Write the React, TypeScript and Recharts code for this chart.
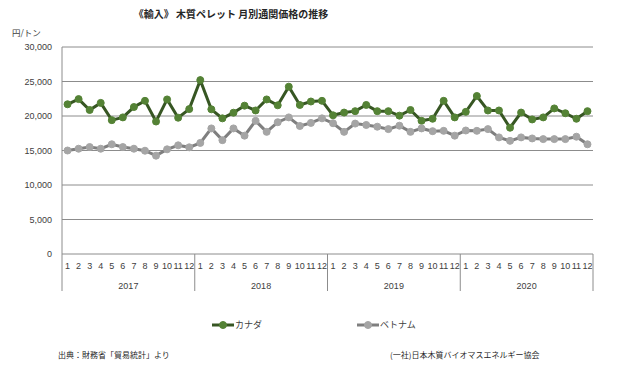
import { LineChart, Line, XAxis, YAxis, CartesianGrid, Legend } from 'recharts'

const YEARS = ['2017', '2018', '2019', '2020']
const MONTHS = [1, 2, 3, 4, 5, 6, 7, 8, 9, 10, 11, 12]

const CANADA = [
  21700, 22450, 20870, 21900, 19400, 19800, 21300, 22200, 19200, 22400, 19750, 21000,
  25200, 20970, 19660, 20480, 21500, 20800, 22400, 21550, 24250, 21600, 22100, 22200,
  20100, 20500, 20700, 21600, 20700, 20700, 20050, 20870, 19300, 19600, 22200, 19800,
  20600, 22900, 20800, 20800, 18300, 20500, 19500, 19800, 21100, 20400, 19600, 20700,
]

const VIETNAM = [
  15000, 15260, 15500, 15260, 15900, 15500, 15260, 14970, 14250, 15170, 15750, 15460,
  16100, 18200, 16500, 18200, 17150, 19300, 17700, 19100, 19800, 18550, 19000, 19660,
  18950, 17700, 18900, 18700, 18450, 18100, 18600, 17700, 18200, 17800, 17850, 17150,
  17900, 17850, 18100, 16900, 16400, 16900, 16750, 16650, 16650, 16650, 17000, 15900,
]

const Y_TICKS = [0, 5000, 10000, 15000, 20000, 25000, 30000]

const SERIES = [
  { key: 'canada', name: 'カナダ', line: '#375623', dot: '#548235' },
  { key: 'vietnam', name: 'ベトナム', line: '#7f7f7f', dot: '#a5a5a5' },
]

const data = YEARS.flatMap((year, yi) =>
  MONTHS.map((m, mi) => ({
    key: `${year}-${m}`,
    year,
    month: m,
    canada: CANADA[yi * 12 + mi],
    vietnam: VIETNAM[yi * 12 + mi],
  })),
)

const W = 618
const H = 369
const PLOT_LEFT = 62
const PLOT_RIGHT = 593
const BAND = (PLOT_RIGHT - PLOT_LEFT) / data.length
const AXIS_COLOR = '#8c8c8c'
const NUM_FONT = '"Liberation Sans", Arial, sans-serif'
const JP_FONT = '"Noto Sans CJK JP", sans-serif'

function MonthTick(props: any) {
  const { x, y, payload } = props
  const [year, m] = String(payload.value).split('-')
  const month = Number(m)
  const idx = data.findIndex((d) => d.key === payload.value)
  return (
    <g>
      <text x={x} y={y + 15} textAnchor="middle" fontSize={9} fill="#404040" fontFamily={NUM_FONT}>
        {month}
      </text>
      {month === 1 && (
        <>
          <line x1={x - BAND / 2} x2={x - BAND / 2} y1={y} y2={y + 37} stroke={AXIS_COLOR} />
          <text x={x - BAND / 2 + BAND * 6} y={y + 35} textAnchor="middle" fontSize={9} fill="#404040" fontFamily={NUM_FONT}>
            {year}
          </text>
        </>
      )}
      {idx === data.length - 1 && (
        <line x1={x + BAND / 2} x2={x + BAND / 2} y1={y} y2={y + 37} stroke={AXIS_COLOR} />
      )}
    </g>
  )
}

function LegendBox() {
  const pos = [212, 357]
  return (
    <div style={{ position: 'relative', width: W, height: 20 }}>
      {SERIES.map((s, i) => (
        <div key={s.key} style={{ position: 'absolute', left: pos[i], top: 2, display: 'flex', alignItems: 'center' }}>
          <svg width={22} height={10}>
            <line x1={0} x2={22} y1={5} y2={5} stroke={s.line} strokeWidth={3} />
            <circle cx={11} cy={5} r={3.5} fill={s.dot} stroke={s.dot} />
          </svg>
          <span style={{ fontSize: 9, fontFamily: JP_FONT, color: '#404040', marginLeft: 1 }}>{s.name}</span>
        </div>
      ))}
    </div>
  )
}

export default function App() {
  return (
    <div style={{ position: 'absolute', left: 0, top: 0, width: W, height: H, background: '#fff' }}>
      <div
        style={{
          position: 'absolute', left: 0, width: 462, top: 6, textAlign: 'center',
          fontSize: 10, fontWeight: 'bold', fontFamily: JP_FONT, color: '#262626',
        }}
      >
        《輸入》 木質ペレット 月別通関価格の推移
      </div>
      <div style={{ position: 'absolute', left: 12, top: 26, fontSize: 8.5, fontFamily: JP_FONT, color: '#404040' }}>
        円/トン
      </div>
      <LineChart width={W} height={H} data={data} margin={{ top: 47, right: W - PLOT_RIGHT, bottom: 55, left: 0 }}>
        <CartesianGrid vertical={false} stroke={AXIS_COLOR} />
        <XAxis
          dataKey="key"
          scale="band"
          interval={0}
          tick={<MonthTick />}
          tickLine={false}
          axisLine={false}
          tickSize={0}
          tickMargin={0}
          height={40}
        />
        <YAxis
          domain={[0, 30000]}
          ticks={Y_TICKS}
          width={PLOT_LEFT}
          tickLine={false}
          tickMargin={4}
          tickSize={6}
          axisLine={{ stroke: AXIS_COLOR }}
          tick={{ fontSize: 9, fill: '#404040', fontFamily: NUM_FONT }}
          tickFormatter={(v: number) => v.toLocaleString('en-US')}
        />
        <YAxis yAxisId="right" orientation="right" width={0} tick={false} tickLine={false} axisLine={{ stroke: AXIS_COLOR }} />
        {SERIES.map((s) => (
          <Line
            key={s.key}
            dataKey={s.key}
            name={s.name}
            stroke={s.line}
            strokeWidth={3}
            dot={{ r: 3.5, fill: s.dot, stroke: s.dot, strokeWidth: 1 }}
            activeDot={false}
            isAnimationActive={false}
          />
        ))}
        <Legend content={() => <LegendBox />} wrapperStyle={{ position: 'absolute', left: 0, top: 316, width: W, height: 20 }} />
      </LineChart>
      <div style={{ position: 'absolute', left: 58, top: 349, fontSize: 8, fontFamily: JP_FONT, color: '#262626' }}>
        出典：財務省「貿易統計」より
      </div>
      <div style={{ position: 'absolute', left: 390, top: 349, fontSize: 8, fontFamily: JP_FONT, color: '#262626' }}>
        (一社)日本木質バイオマスエネルギー協会
      </div>
    </div>
  )
}
